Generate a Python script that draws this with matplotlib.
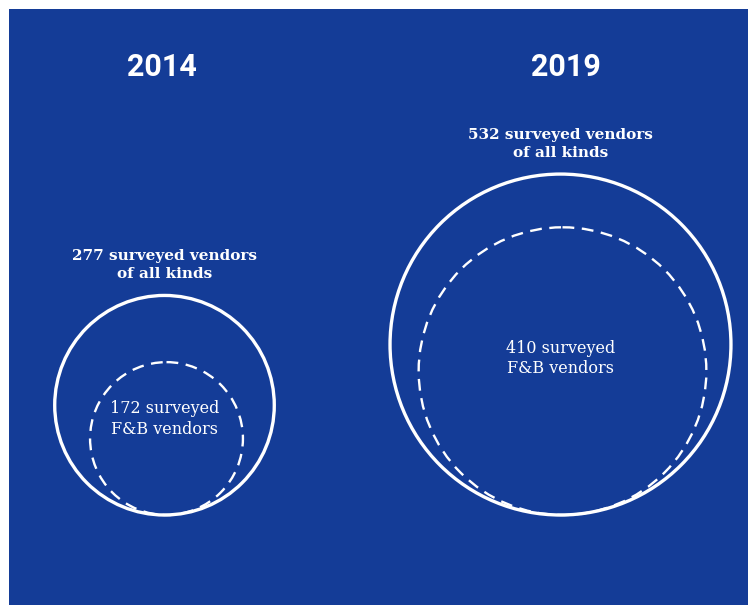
import numpy as np
import matplotlib.pyplot as plt
from matplotlib.patches import Circle, Rectangle

years = ["2014", "2019"]
all_vendors = [277, 532]
fb_vendors = [172, 410]

BLUE = "#143c97"

# radius scale (pixels) from vendor count, area-ish
def radius(v):
    return 9.45 * np.sqrt(v) - 47.5

fig = plt.figure(figsize=(7.48, 6.05), dpi=100)
ax = fig.add_axes([0, 0, 1, 1])
ax.set_xlim(0, 748)
ax.set_ylim(605, 0)
ax.axis('off')

ax.add_patch(Rectangle((9, 9), 748, 605, facecolor=BLUE, edgecolor='none'))

centers_x = [164.5, 560.5]
year_x = [162, 566]
bottom = 515

for i in range(len(years)):
    cx = centers_x[i]
    r_out = radius(all_vendors[i])
    r_in = radius(fb_vendors[i])
    cy = bottom - r_out
    ax.add_patch(Circle((cx, cy), r_out, fill=False, edgecolor='white', linewidth=2.4))
    ax.add_patch(Circle((cx + 2, bottom - r_in), r_in, fill=False, edgecolor='white',
                        linewidth=1.7, linestyle=(0, (5, 3.2))))

    ax.text(year_x[i], 67, years[i], color='white', fontsize=22, fontweight='bold',
            family='Roboto', ha='center', va='center')
    ax.text(cx, cy - r_out - 14, f"{all_vendors[i]} surveyed vendors\nof all kinds",
            color='white', fontsize=11, fontweight='bold', family='DejaVu Serif',
            ha='center', va='bottom', linespacing=1.4)
    ax.text(cx, cy + 14, f"{fb_vendors[i]} surveyed\nF&B vendors", color='white',
            fontsize=11.5, family='DejaVu Serif', ha='center', va='center',
            linespacing=1.3)

fig.savefig("out.png", dpi=100)
